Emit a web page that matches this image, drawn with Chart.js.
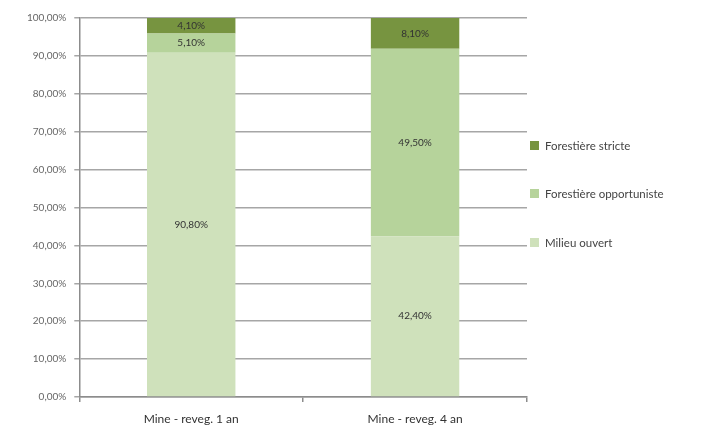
<!DOCTYPE html>
<html lang="fr">
<head>
<meta charset="utf-8">
<title>Mine - reveg.</title>
<script src="https://cdn.jsdelivr.net/npm/chart.js@4.4.1/dist/chart.umd.min.js"></script>
<style>
  html, body { margin: 0; padding: 0; background: #fff; }
  .chart-container { position: relative; width: 721px; height: 429px; }
</style>
</head>
<body>
<div class="chart-container">
  <canvas id="myChart"></canvas>
</div>
<script>
// Chart data
const categories = ['Mine - reveg. 1 an', 'Mine - reveg. 4 an'];
const milieuOuvert = [90.8, 42.4];
const forestiereOpportuniste = [5.1, 49.5];
const forestiereStricte = [4.1, 8.1];
const seriesNames = ['Milieu ouvert', 'Forestière opportuniste', 'Forestière stricte'];
const yTicks = [0, 10, 20, 30, 40, 50, 60, 70, 80, 90, 100];

const colors = ['#cfe1bb', '#b6d39b', '#779440'];
const fontFamily = "Lato, 'Open Sans', sans-serif";

// French percent format: 4,10%
const fmtPct = (v) => v.toFixed(2).replace('.', ',') + '%';

// Value labels centred in each segment
const segmentLabels = {
  id: 'segmentLabels',
  afterDatasetsDraw(chart) {
    const ctx = chart.ctx;
    ctx.save();
    ctx.font = '10px ' + fontFamily;
    ctx.fillStyle = '#333';
    ctx.textAlign = 'center';
    ctx.textBaseline = 'middle';
    chart.data.datasets.forEach((ds, i) => {
      chart.getDatasetMeta(i).data.forEach((bar, j) => {
        const mid = (bar.y + bar.base) / 2;
        ctx.fillText(fmtPct(ds.data[j]), bar.x, mid);
      });
    });
    ctx.restore();
  }
};

// Legend drawn on the right, top item = last series
const sideLegend = {
  id: 'sideLegend',
  afterDraw(chart) {
    const ctx = chart.ctx;
    const x = chart.chartArea.right + 3;
    const rows = [145, 193, 242];
    ctx.save();
    ctx.font = '11.5px ' + fontFamily;
    ctx.textBaseline = 'middle';
    ctx.textAlign = 'left';
    const ds = chart.data.datasets.slice().reverse();
    ds.forEach((d, k) => {
      ctx.fillStyle = d.backgroundColor;
      ctx.fillRect(x, rows[k] - 4, 9, 9);
      ctx.fillStyle = '#444';
      ctx.fillText(d.label, x + 15, rows[k] + 1);
    });
    ctx.restore();
  }
};

document.addEventListener('DOMContentLoaded', () => {
  const canvas = document.getElementById('myChart');
  if (!canvas) return;

  const seriesData = [milieuOuvert, forestiereOpportuniste, forestiereStricte];

  new Chart(canvas, {
    type: 'bar',
    data: {
      labels: categories,
      datasets: seriesNames.map((name, i) => ({
        label: name,
        data: seriesData[i],
        backgroundColor: colors[i],
        borderWidth: 0,
        barPercentage: 0.395,
        categoryPercentage: 1
      }))
    },
    options: {
      responsive: true,
      maintainAspectRatio: false,
      animation: false,
      layout: { padding: { top: 18, right: 194, left: 19, bottom: 0 } },
      plugins: {
        legend: { display: false },
        tooltip: { enabled: false }
      },
      scales: {
        x: {
          stacked: true,
          afterFit(scale) { scale.height = 32; },
          grid: {
            offset: true,
            drawOnChartArea: false,
            drawTicks: true,
            tickLength: 5,
            color: '#8c8c8c',
            lineWidth: 1.5
          },
          border: { color: '#8c8c8c', width: 1.5 },
          ticks: {
            color: '#333',
            font: { family: fontFamily, size: 12 },
            padding: 10
          }
        },
        y: {
          stacked: true,
          min: 0,
          max: 100,
          afterBuildTicks(axis) {
            axis.ticks = yTicks.map(v => ({ value: v }));
          },
          grid: {
            color: '#a6a6a6',
            lineWidth: 1.5,
            tickLength: 5
          },
          border: { color: '#8c8c8c', width: 1.5 },
          ticks: {
            color: '#666',
            font: { family: fontFamily, size: 10 },
            padding: 8,
            callback: (v) => fmtPct(v)
          }
        }
      }
    },
    plugins: [segmentLabels, sideLegend]
  });
});
</script>
</body>
</html>
